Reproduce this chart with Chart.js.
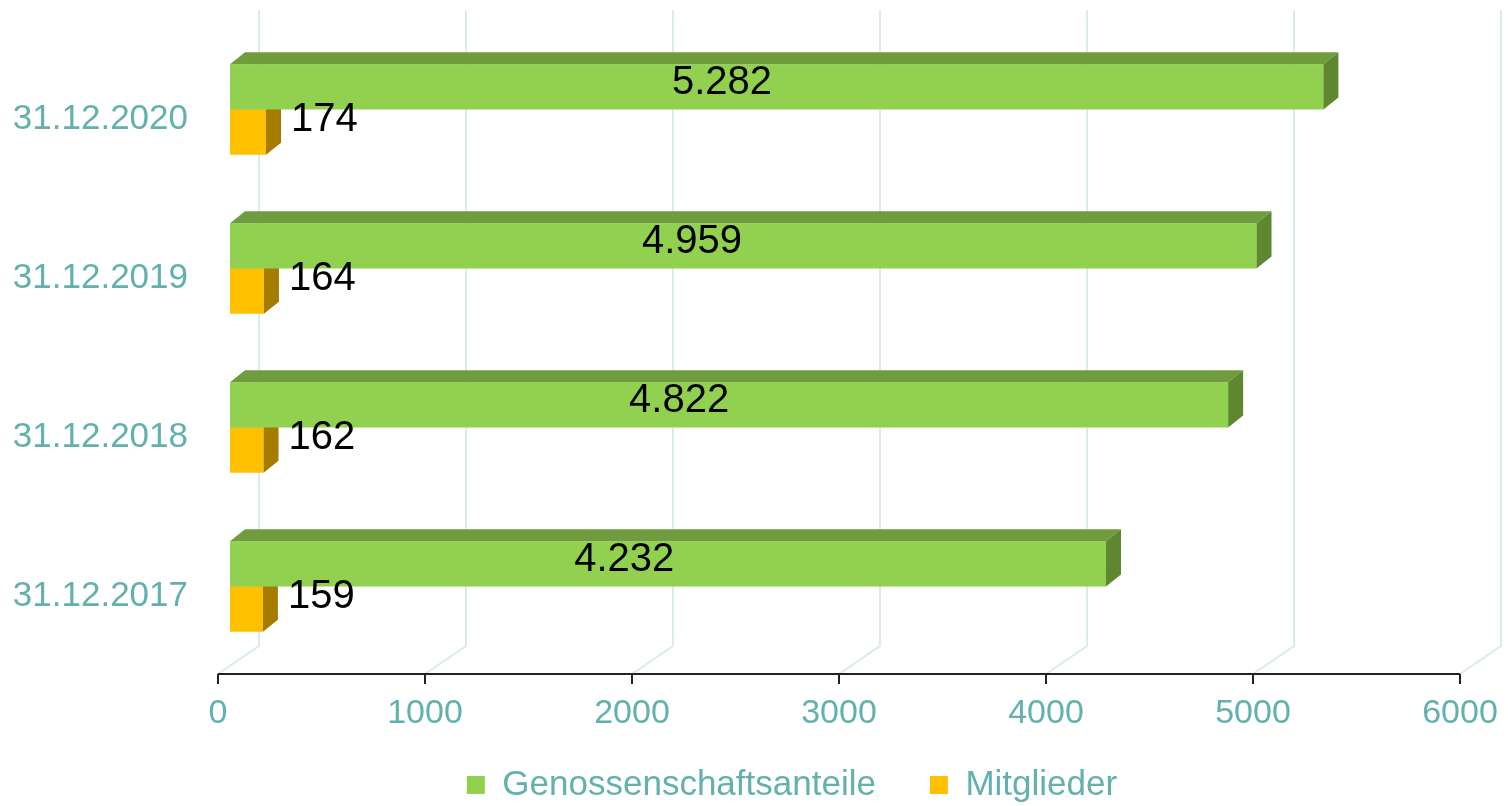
<!DOCTYPE html>
<html>
<head>
<meta charset="utf-8">
<script src="https://cdn.jsdelivr.net/npm/chart.js@4/dist/chart.umd.min.js"></script>
<style>
  html, body { margin: 0; padding: 0; background: #fff; }
  #wrap { width: 1508px; height: 806px; }
</style>
</head>
<body>
<div id="wrap"><canvas id="chart"></canvas></div>
<script>
// values
const categories = ['31.12.2020', '31.12.2019', '31.12.2018', '31.12.2017'];
const anteile = [5282, 4959, 4822, 4232];
const mitglieder = [174, 164, 162, 159];
const xTicks = [0, 1000, 2000, 3000, 4000, 5000, 6000];

const FONT = "'Liberation Sans', Arial, sans-serif";
const TEAL = '#62b1ae';
const DEPTH_X = 15, DEPTH_Y = 12;   // depth of the boxes
const SHIFT = 12;                   // boxes stand a little into the floor
const WALL_X = 41, WALL_Y = 28;     // depth of the floor / back wall

// darker faces per dataset
const faceColors = [
  { top: '#6f9d3d', side: '#5f8730' },
  { top: '#d9a300', side: '#a67c00' }
];

function fmt(v) {
  return String(v).replace(/\B(?=(\d{3})+(?!\d))/g, '.');
}

const threeD = {
  id: 'threeD',
  afterInit(chart) {
    const fit = chart.legend.fit;
    chart.legend.fit = function () {
      fit.call(this);
      this.height = 70;
    };
  },
  afterLayout(chart) {
    // legend sits a bit higher and more to the right than Chart.js puts it
    const lg = chart.legend;
    lg.left += 62;
    lg.right += 62;
    lg.top -= 22.5;
  },
  beforeDatasetsDraw(chart) {
    const { ctx, chartArea, scales: { x } } = chart;
    const floor = chartArea.bottom + 8;
    ctx.save();
    // back wall and floor grid
    ctx.strokeStyle = '#d8ecec';
    ctx.lineWidth = 2;
    xTicks.forEach(v => {
      const px = x.getPixelForValue(v);
      ctx.beginPath();
      ctx.moveTo(px, floor);
      ctx.lineTo(px + WALL_X, floor - WALL_Y);
      ctx.lineTo(px + WALL_X, 10);
      ctx.stroke();
    });
    // axis line with ticks
    ctx.strokeStyle = '#222';
    ctx.lineWidth = 2;
    ctx.beginPath();
    ctx.moveTo(x.getPixelForValue(0), floor);
    ctx.lineTo(x.getPixelForValue(6000), floor);
    xTicks.forEach(v => {
      const px = x.getPixelForValue(v);
      ctx.moveTo(px, floor);
      ctx.lineTo(px, floor + 10);
    });
    ctx.stroke();
    ctx.restore();
    ctx.save();
    ctx.translate(SHIFT, 0);
  },
  afterDatasetDraw(chart, args) {
    const ctx = chart.ctx;
    const c = faceColors[args.index];
    args.meta.data.forEach(bar => {
      const { x, y, base, height } = bar.getProps(['x', 'y', 'base', 'height'], true);
      const top = y - height / 2, bottom = y + height / 2;
      ctx.fillStyle = c.top;
      ctx.beginPath();
      ctx.moveTo(base, top);
      ctx.lineTo(x, top);
      ctx.lineTo(x + DEPTH_X, top - DEPTH_Y);
      ctx.lineTo(base + DEPTH_X, top - DEPTH_Y);
      ctx.closePath();
      ctx.fill();
      ctx.fillStyle = c.side;
      ctx.beginPath();
      ctx.moveTo(x, top);
      ctx.lineTo(x + DEPTH_X, top - DEPTH_Y);
      ctx.lineTo(x + DEPTH_X, bottom - DEPTH_Y);
      ctx.lineTo(x, bottom);
      ctx.closePath();
      ctx.fill();
    });
  },
  afterDatasetsDraw(chart) {
    const ctx = chart.ctx;
    ctx.restore();
    ctx.save();
    ctx.fillStyle = '#000';
    ctx.font = '40px ' + FONT;
    ctx.textBaseline = 'middle';
    chart.getDatasetMeta(0).data.forEach((bar, i) => {
      const { x, y, base } = bar.getProps(['x', 'y', 'base'], true);
      ctx.textAlign = 'center';
      ctx.fillText(fmt(anteile[i]), base + (x - base) * 0.45 + SHIFT, y - 4);
    });
    chart.getDatasetMeta(1).data.forEach((bar, i) => {
      const { x, y } = bar.getProps(['x', 'y'], true);
      ctx.textAlign = 'left';
      ctx.fillText(fmt(mitglieder[i]), x + SHIFT + DEPTH_X + 10, y - 12);
    });
    ctx.restore();
  }
};

const ctx = document.getElementById('chart').getContext('2d');
const chart = new Chart(ctx, {
  type: 'bar',
  data: {
    labels: categories,
    datasets: [{
      label: 'Genossenschaftsanteile',
      data: anteile,
      backgroundColor: '#92d050',
      borderWidth: 0,
      clip: false
    }, {
      label: 'Mitglieder',
      data: mitglieder,
      backgroundColor: '#ffc000',
      borderWidth: 0,
      clip: false
    }]
  },
  options: {
    indexAxis: 'y',
    responsive: true,
    maintainAspectRatio: false,
    animation: false,
    devicePixelRatio: 1,
    barPercentage: 1,
    categoryPercentage: 0.57,
    layout: { padding: { top: 30, right: 48, left: 0, bottom: 0 } },
    scales: {
      x: {
        min: 0,
        max: 6000,
        afterFit: s => {
          s.height = 70;
          s.paddingLeft = 0;
          s.paddingRight = 0;
        },
        afterBuildTicks: s => { s.ticks = xTicks.map(v => ({ value: v })); },
        grid: { display: false, drawTicks: false },
        border: { display: false },
        ticks: {
          padding: 27,
          color: TEAL,
          font: { family: FONT, size: 34 },
          callback: v => String(v)
        }
      },
      y: {
        afterFit: s => {
          s.width = 218;
          s.paddingTop = 0;
          s.paddingBottom = 0;
        },
        grid: { display: false, drawTicks: false },
        border: { display: false },
        ticks: {
          padding: 30,
          labelOffset: 10,
          color: TEAL,
          font: { family: FONT, size: 35 }
        }
      }
    },
    plugins: {
      legend: {
        position: 'bottom',
        labels: {
          boxWidth: 18,
          boxHeight: 18,
          padding: 54,
          color: TEAL,
          font: { family: FONT, size: 35 }
        }
      },
      tooltip: { enabled: false }
    }
  },
  plugins: [threeD]
});
</script>
</body>
</html>
